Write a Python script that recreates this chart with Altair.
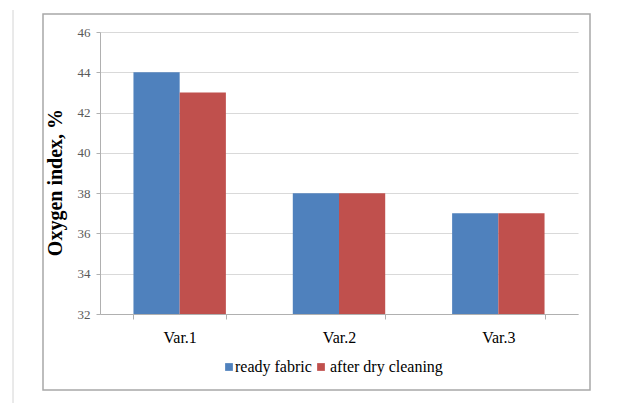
import altair as alt
import pandas as pd

# Oxygen index of the fabric variants, before and after dry cleaning
variants = ["Var.1", "Var.2", "Var.3"]
series = ["ready fabric", "after dry cleaning"]
ready_fabric = [44, 38, 37]
after_dry_cleaning = [43, 38, 37]
y_ticks = [32, 34, 36, 38, 40, 42, 44, 46]
colors = ["#4F81BD", "#C0504D"]

rows = []
for v, a, b in zip(variants, ready_fabric, after_dry_cleaning):
    rows.append({"variant": v, "series": series[0], "value": a})
    rows.append({"variant": v, "series": series[1], "value": b})
df = pd.DataFrame(rows)

W, H = 478, 282
Y_MIN, Y_MAX = y_ticks[0], y_ticks[-1]
SERIF = "Liberation Serif"

bars = alt.Chart(df).mark_bar().encode(
    x=alt.X(
        "variant:N",
        sort=variants,
        scale=alt.Scale(paddingInner=0.42, paddingOuter=0.21),
        axis=alt.Axis(
            title=None,
            labelAngle=0,
            labelFont=SERIF,
            labelFontSize=16,
            labelColor="#000000",
            labelPadding=10,
            domainColor="#b0b0b0",
            tickColor="#b0b0b0",
            tickSize=5,
            tickBand="extent",
        ),
    ),
    xOffset=alt.XOffset("series:N", sort=series, scale=alt.Scale(paddingInner=0, paddingOuter=0)),
    y=alt.Y(
        "value:Q",
        scale=alt.Scale(domain=[Y_MIN, Y_MAX], nice=False, zero=False),
        axis=alt.Axis(
            values=y_ticks,
            title="Oxygen index, %",
            titleFont=SERIF,
            titleFontSize=20,
            titleFontWeight="bold",
            titleColor="#000000",
            titlePadding=12,
            titleY=150,
            labelFont="Liberation Sans Narrow",
            labelFontSize=13,
            labelColor="#595959",
            labelPadding=6,
            domainColor="#b0b0b0",
            tickColor="#b0b0b0",
            tickSize=4,
            gridColor="#d9d9d9",
        ),
    ),
    y2=alt.datum(Y_MIN),
    color=alt.Color(
        "series:N",
        sort=series,
        scale=alt.Scale(domain=series, range=colors),
        legend=None,
    ),
)

# legend row below the axis: a coloured square and a serif label per series
LEGEND_Y = 335
legend_slots = [(129, 135), (221, 230)]
legend_layers = []
for name, col, (sx, tx) in zip(series, colors, legend_slots):
    entry = pd.DataFrame({"series": [name]})
    legend_layers.append(
        alt.Chart(entry).mark_square(size=60, color=col, opacity=1)
        .encode(x=alt.value(sx), y=alt.value(LEGEND_Y))
    )
    legend_layers.append(
        alt.Chart(entry).mark_text(
            align="left", baseline="middle", font=SERIF, fontSize=16, color="#000000"
        ).encode(x=alt.value(tx), y=alt.value(LEGEND_Y), text="series:N")
    )

# outer chart frame and the page edge line to its left
frame = alt.Chart(pd.DataFrame({"k": [0]})).mark_rect(
    fillOpacity=0, stroke="#a8a8a8", strokeWidth=1.5
).encode(x=alt.value(-57), x2=alt.value(490), y=alt.value(-18), y2=alt.value(358))

page_edge = alt.Chart(pd.DataFrame({"k": [0]})).mark_rule(
    color="#d4d4d4", strokeWidth=1
).encode(x=alt.value(-87), y=alt.value(-22), y2=alt.value(371))

chart = (
    alt.layer(page_edge, frame, bars, *legend_layers)
    .properties(
        width=W,
        height=H,
        autosize=alt.AutoSizeParams(type="none"),
        padding={"left": 100, "top": 32, "right": 39, "bottom": 89},
        background="#ffffff",
    )
    .configure_view(stroke=None)
)

chart.save("out.html", embed_options={"renderer": "svg", "actions": False})
